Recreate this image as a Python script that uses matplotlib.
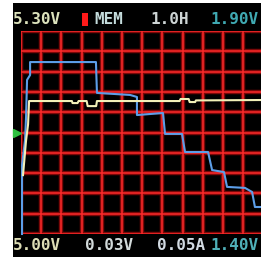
import matplotlib
matplotlib.use("Agg")
import matplotlib.pyplot as plt
from matplotlib.patches import Rectangle

# ---- data (grid units: 20 px per division) ----
volt_x = [0.10, 0.25, 0.35, 0.40, 2.52, 2.55, 2.80, 2.85, 3.25, 3.30, 3.72, 3.76,
          7.85, 7.90, 8.30, 8.35, 8.62, 8.66, 11.88]
volt_y = [2.90, 4.60, 5.40, 6.55, 6.55, 6.45, 6.45, 6.55, 6.55, 6.30, 6.30, 6.55,
          6.55, 6.65, 6.65, 6.50, 6.50, 6.58, 6.60]

curr_x = [0.05, 0.05, 0.20, 0.25, 0.30, 0.45, 0.45, 3.71, 3.76, 5.40, 5.74, 5.74,
          7.03, 7.13, 7.97, 8.12, 9.26, 9.46, 10.05, 10.20, 11.09, 11.44, 11.58, 11.88]
curr_y = [0.00, 3.40, 4.63, 5.76, 7.59, 7.83, 8.47, 8.47, 6.95, 6.85, 6.75, 5.86,
          5.96, 4.93, 4.93, 4.04, 4.04, 3.15, 3.05, 2.32, 2.27, 2.07, 1.33, 1.33]

trigger_level = 5.0

top_labels = ["5.30V", "MEM", "1.0H", "1.90V"]
bottom_labels = ["5.00V", "0.03V", "0.05A", "1.40V"]

W, H = 261, 262
fig = plt.figure(figsize=(W / 100, H / 100), dpi=100)
fig.patch.set_facecolor("white")
fig.patches.append(Rectangle((13 / W, 1 - 257 / H), (W - 13) / W, (257 - 3) / H,
                             transform=fig.transFigure, facecolor="black",
                             edgecolor="none", zorder=-5))

ax = fig.add_axes([21 / W, 1 - 234 / H, (W - 21) / W, (234 - 31) / H])
ax.set_zorder(1)
ax.set_facecolor("black")
ax.set_xlim(0, 240 / 20.2)
ax.set_ylim(0, 10)
for i in range(0, 12):
    ax.axvline(i, color="#7a0808", lw=3.2, zorder=1)
    ax.axvline(i, color="#ff2a2a", lw=1.1, zorder=2)
for j in range(0, 11):
    ax.axhline(j, color="#7a0808", lw=3.2, zorder=1)
    ax.axhline(j, color="#ff2a2a", lw=1.1, zorder=2)
for s in ax.spines.values():
    s.set_visible(False)
ax.set_xticks([])
ax.set_yticks([])

ax.plot(volt_x, volt_y, color="#f2f0b8", lw=1.5, zorder=4, clip_on=False)
ax.plot(curr_x, curr_y, color="#5c9ee8", lw=1.5, zorder=3, clip_on=False)
ax.plot([-0.2], [trigger_level], marker=">", color="#2fc040", ms=6, clip_on=False, zorder=5)

font = dict(family="DejaVu Sans Mono", fontsize=11.5, fontweight="bold", va="center")
top_cols = ["#dce2bc", "#c4dcdc", "#cdd4d4", "#3fa9b2"]
top_x = [13, 94, 151, 211]
for lab, c, x in zip(top_labels, top_cols, top_x):
    fig.text(x / W, 1 - 19 / H, lab, color=c, zorder=6, **font)
fig.patches.append(Rectangle((82 / W, 1 - 26 / H), 6 / W, 13 / H,
                             transform=fig.transFigure, facecolor="#ff1a1a",
                             edgecolor="none", zorder=6))
bot_cols = ["#dcdcb4", "#d2dada", "#d2dae2", "#4fb0b8"]
bot_x = [13, 85, 157, 210]
for lab, c, x in zip(bottom_labels, bot_cols, bot_x):
    fig.text(x / W, 1 - 246 / H, lab, color=c, zorder=6, **font)

fig.savefig("out.png", dpi=100, facecolor="white")
